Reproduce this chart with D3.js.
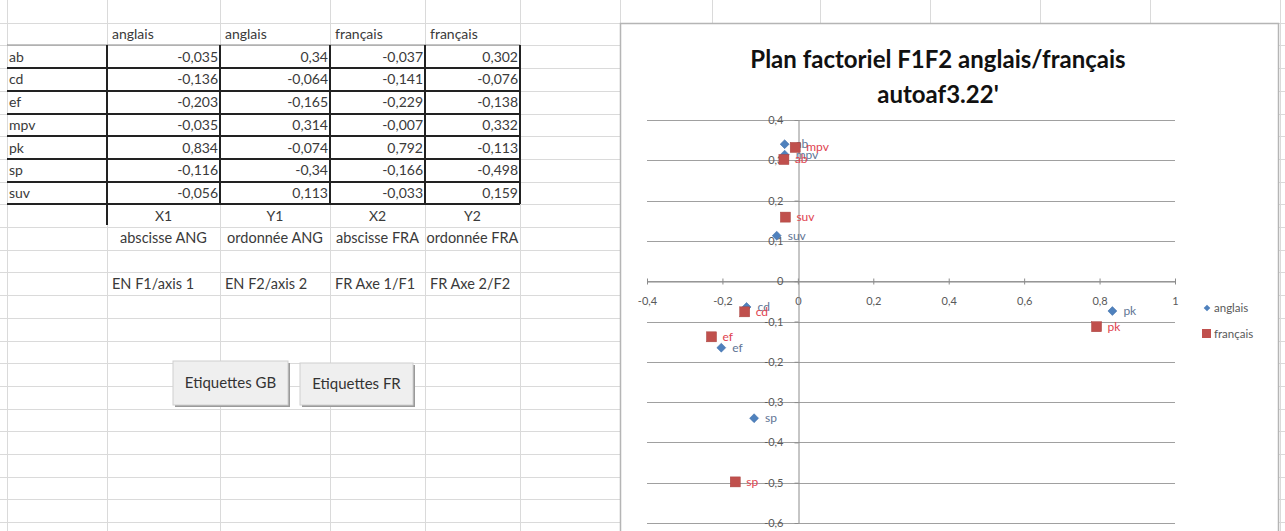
<!DOCTYPE html>
<html><head><meta charset="utf-8">
<script src="https://cdn.jsdelivr.net/npm/d3@7"></script>
<style>
html,body{margin:0;padding:0;background:#fff;overflow:hidden}
svg{display:block}
</style></head>
<body>
<svg id="c" width="1285" height="531"></svg>
<script>
// ---------- data ----------
const rowLabels = ["ab","cd","ef","mpv","pk","sp","suv"];
const x1 = [-0.035,-0.136,-0.203,-0.035,0.834,-0.116,-0.056];
const y1 = [0.34,-0.064,-0.165,0.314,-0.074,-0.34,0.113];
const x2 = [-0.037,-0.141,-0.229,-0.007,0.792,-0.166,-0.033];
const y2 = [0.302,-0.076,-0.138,0.332,-0.113,-0.498,0.159];
const headers = ["anglais","anglais","français","français"];
const colNames = ["X1","Y1","X2","Y2"];
const colDesc = ["abscisse ANG","ordonnée ANG","abscisse FRA","ordonnée FRA"];
const colAxis = ["EN F1/axis 1","EN F2/axis 2","FR Axe 1/F1","FR Axe 2/F2"];
const buttons = ["Etiquettes GB","Etiquettes FR"];
const seriesNames = ["anglais","français"];
const xTicks = [-0.4,-0.2,0,0.2,0.4,0.6,0.8,1];
const yTicks = [0.4,0.3,0.2,0.1,0,-0.1,-0.2,-0.3,-0.4,-0.5,-0.6];
const titleLines = ["Plan factoriel F1F2 anglais/français","autoaf3.22'"];

const fr = v => String(v).replace(".", ",");
const svg = d3.select("#c");
const FONT = "Lato, 'Open Sans', sans-serif";

// ---------- spreadsheet grid ----------
const colX = [7,107,220,330,425,520,620,712,820,930,1040,1150,1280];
const rowH = 22.7;
const nRows = 24;
const grid = svg.append("g").attr("stroke","#dadada").attr("stroke-width",1);
colX.forEach(cx => grid.append("line").attr("x1",cx+0.5).attr("x2",cx+0.5).attr("y1",0).attr("y2",531));
d3.range(1,nRows).forEach(i => grid.append("line").attr("x1",0).attr("x2",1285)
  .attr("y1",Math.round(i*rowH)+0.5).attr("y2",Math.round(i*rowH)+0.5));

const rowTop = i => Math.round(i*rowH);
const rowMid = i => i*rowH + rowH/2 + 5;

// header row (row 1)
const t = svg.append("g").attr("font-family",FONT).attr("font-size",14).attr("fill","#3a3a3a");
headers.forEach((h,j) => t.append("text").attr("x",colX[j+1]+5).attr("y",rowMid(1)).text(h));
// data rows (rows 2..8)
const cols = [x1,y1,x2,y2];
rowLabels.forEach((lab,i) => {
  t.append("text").attr("x",colX[0]+2).attr("y",rowMid(i+2)).text(lab);
  cols.forEach((arr,j) => t.append("text").attr("x",colX[j+2]-2).attr("y",rowMid(i+2))
    .attr("text-anchor","end").text(fr(arr[i])));
});
colNames.forEach((n,j) => t.append("text").attr("x",(colX[j+1]+colX[j+2])/2).attr("y",rowMid(9))
  .attr("text-anchor","middle").text(n));
colDesc.forEach((n,j) => t.append("text").attr("x",(colX[j+1]+colX[j+2])/2).attr("y",rowMid(10))
  .attr("text-anchor","middle").attr("font-size",14.5).text(n));
colAxis.forEach((n,j) => t.append("text").attr("x",colX[j+1]+5).attr("y",rowMid(12)).attr("font-size",14.5).text(n));

// thick table borders
const b = svg.append("g").attr("stroke","#222").attr("stroke-width",2);
for (let i=2;i<=9;i++) {
  b.append("line").attr("x1",colX[0]).attr("x2",colX[5]).attr("y1",rowTop(i)).attr("y2",rowTop(i))
   .attr("stroke-width", i===2?1:2).attr("stroke", i===2?"#888":"#222");
}
b.append("line").attr("x1",colX[1]).attr("x2",colX[1]).attr("y1",rowTop(2)).attr("y2",rowTop(10)-2);
[2,3,4,5].forEach(c => b.append("line").attr("x1",colX[c]).attr("x2",colX[c]).attr("y1",rowTop(2)).attr("y2",rowTop(9)));

// buttons
const btn = [[173,361,115,44],[300,363,113,42]];
buttons.forEach((lab,k) => {
  const [bx,by,bw,bh] = btn[k];
  const g = svg.append("g");
  g.append("rect").attr("x",bx+2).attr("y",by+2).attr("width",bw).attr("height",bh).attr("fill","#9a9a9a");
  g.append("rect").attr("x",bx).attr("y",by).attr("width",bw).attr("height",bh).attr("fill","#efefef").attr("stroke","#d0d0d0");
  g.append("text").attr("x",bx+bw/2).attr("y",by+bh/2+5).attr("text-anchor","middle")
   .attr("font-family",FONT).attr("font-size",15).attr("fill","#333").text(lab);
});

// ---------- chart ----------
svg.append("rect").attr("x",620.5).attr("y",23.5).attr("width",658).attr("height",520)
  .attr("fill","#fff").attr("stroke","#b5b5b5").attr("stroke-width",1.5);

const x = d3.scaleLinear().domain([-0.4,1]).range([647,1175]);
const y = d3.scaleLinear().domain([-0.6,0.4]).range([523,120]);

svg.append("g").attr("font-family",FONT).attr("font-weight","bold").attr("font-size",24).attr("fill","#111")
  .selectAll("text").data(titleLines).join("text")
  .attr("x",938).attr("y",(d,i)=>68+i*35).attr("text-anchor","middle").text(d=>d);

// horizontal gridlines
svg.append("g").selectAll("line").data(yTicks).join("line")
  .attr("x1",x(-0.4)).attr("x2",x(1)).attr("y1",d=>Math.round(y(d))+0.5).attr("y2",d=>Math.round(y(d))+0.5)
  .attr("stroke","#a0a0a0").attr("stroke-width",1);

// x axis at y=0
const xAxis = d3.axisBottom(x).tickValues(xTicks).tickFormat(fr).tickSize(4).tickSizeOuter(0).tickPadding(12);
const gx = svg.append("g").attr("transform",`translate(0,${Math.round(y(0))+0.5})`).call(xAxis);
gx.select(".domain").attr("stroke","#8c8c8c");
gx.selectAll(".tick line").attr("stroke","#8c8c8c").attr("y1",-3).attr("y2",3);
gx.selectAll("text").attr("font-family",FONT).attr("font-size",11).attr("fill","#595959");

// y axis at x=0
const yAxis = d3.axisLeft(y).tickValues(yTicks).tickFormat(fr).tickSize(4).tickSizeOuter(0).tickPadding(11);
const gy = svg.append("g").attr("transform",`translate(${Math.round(x(0))+0.5},0)`).call(yAxis);
gy.select(".domain").attr("stroke","#8c8c8c");
gy.selectAll(".tick line").attr("stroke","#8c8c8c");
gy.selectAll("text").attr("font-family",FONT).attr("font-size",11).attr("fill","#595959");

// series
const blue = "#4F81BD", red = "#C0504D";
const ang = rowLabels.map((l,i)=>({l, x:x1[i], y:y1[i]}));
const fra = rowLabels.map((l,i)=>({l, x:x2[i], y:y2[i]}));

const gA = svg.append("g");
gA.selectAll("path").data(ang).join("path")
  .attr("d", d3.symbol().type(d3.symbolSquare).size(40)())
  .attr("transform", d=>`translate(${x(d.x)},${y(d.y)}) rotate(45)`)
  .attr("fill", blue).attr("stroke","#3a6aa5").attr("stroke-width",0.5);
gA.selectAll("text").data(ang).join("text")
  .attr("x", d=>x(d.x)+11).attr("y", d=>y(d.y)+4)
  .attr("font-family",FONT).attr("font-size",12).attr("fill","#5f7595").text(d=>d.l);

const gF = svg.append("g");
gF.selectAll("rect").data(fra).join("rect")
  .attr("x", d=>x(d.x)-5).attr("y", d=>y(d.y)-5).attr("width",10).attr("height",10)
  .attr("fill", red).attr("stroke","#a8403d").attr("stroke-width",0.5);
gF.selectAll("text").data(fra).join("text")
  .attr("x", d=>x(d.x)+11).attr("y", d=>y(d.y)+4)
  .attr("font-family",FONT).attr("font-size",12).attr("fill","#e0424f").text(d=>d.l);

// legend
const lg = svg.append("g").attr("font-family",FONT).attr("font-size",11.5).attr("fill","#595959");
lg.append("path").attr("d", d3.symbol().type(d3.symbolSquare).size(22)())
  .attr("transform","translate(1207,308) rotate(45)").attr("fill",blue);
lg.append("text").attr("x",1214).attr("y",312).text(seriesNames[0]);
lg.append("rect").attr("x",1202).attr("y",329).attr("width",9).attr("height",9).attr("fill",red);
lg.append("text").attr("x",1214).attr("y",338).text(seriesNames[1]);
</script>
</body></html>
